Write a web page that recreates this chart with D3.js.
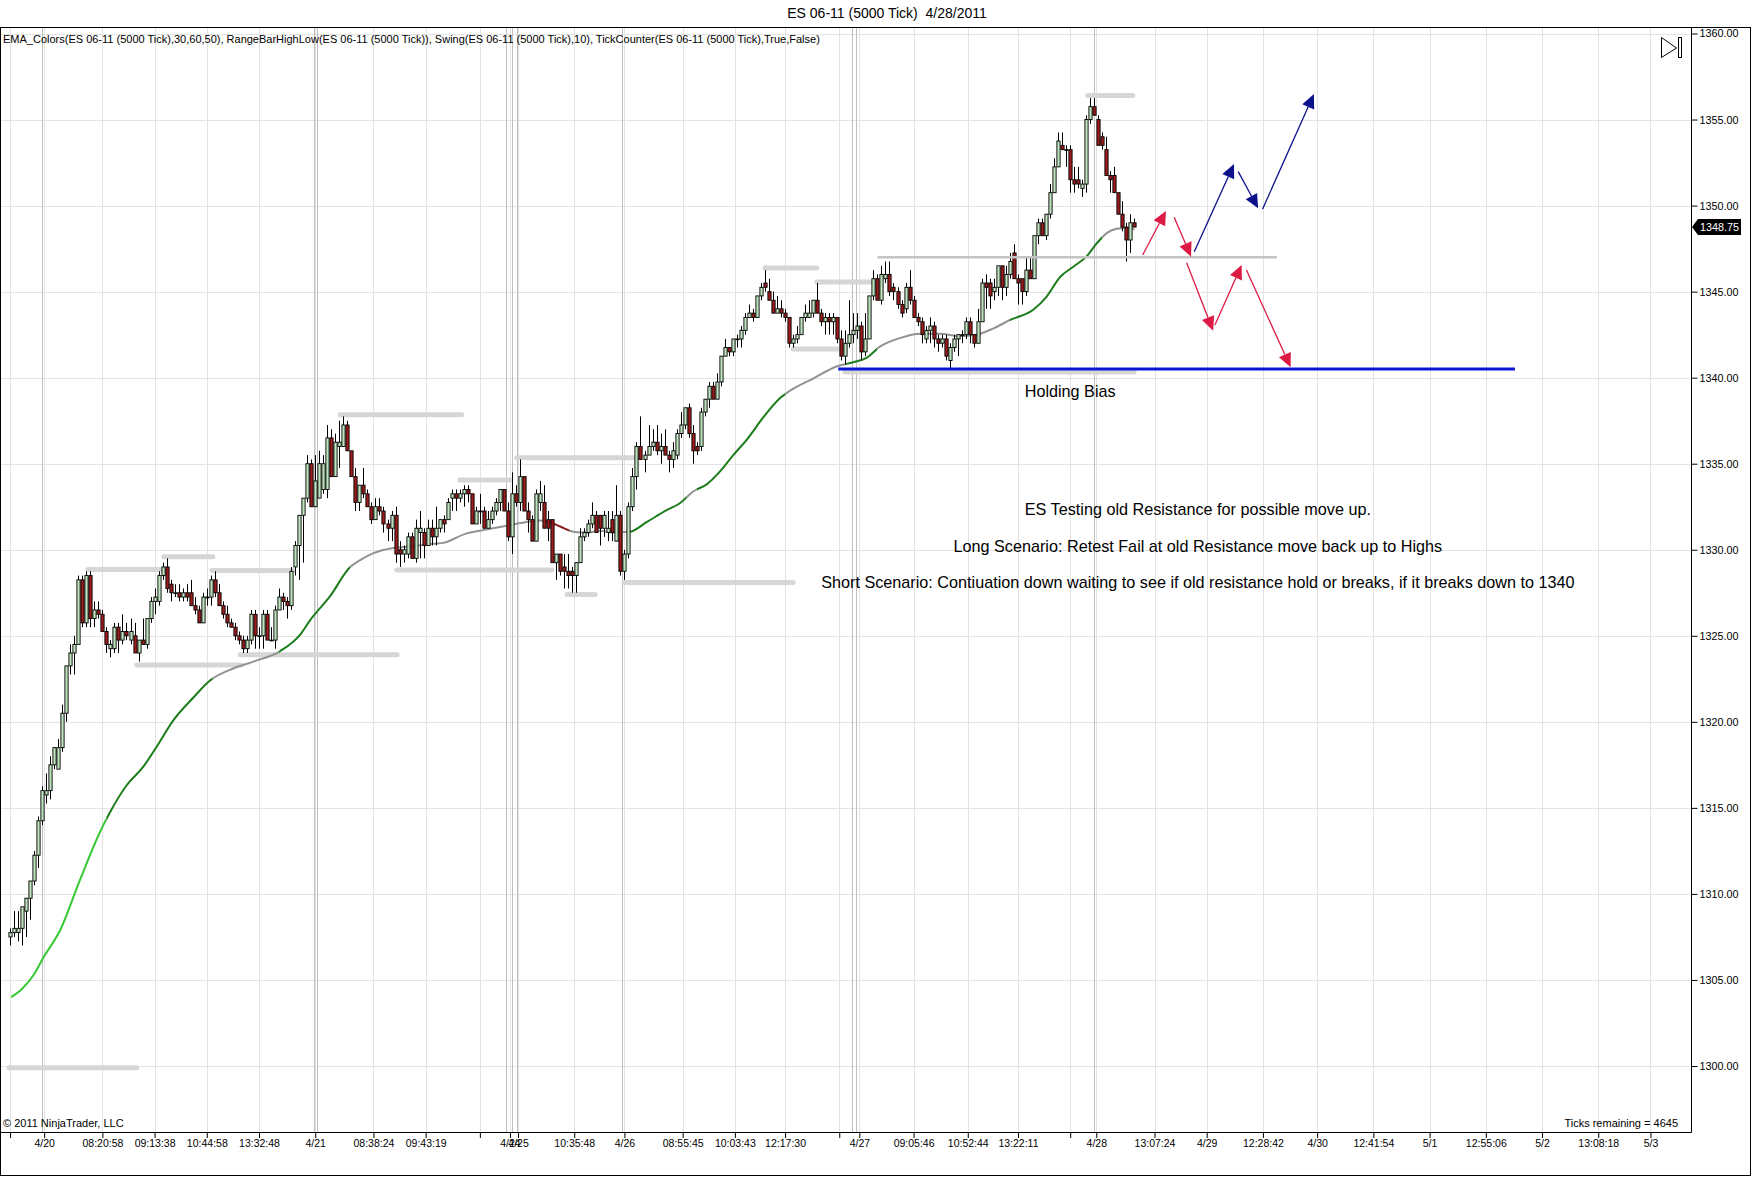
<!DOCTYPE html>
<html>
<head>
<meta charset="utf-8">
<script src="https://cdn.jsdelivr.net/npm/d3@7"></script>
<style>
  body { margin: 0; background: #fff; }
  svg text { font-family: "Liberation Sans", Arial, sans-serif; fill: #000; }
</style>
</head>
<body>
<svg id="chart"></svg>
<script>
// bars: [open, high, low, close], one per 5000-tick bar
const ohlc = [
  [1307.5,1308,1307,1307.75],[1307.75,1309,1307.5,1308],[1307.75,1309,1307.25,1308],[1308,1309.25,1307,1309.25],
  [1309,1309.75,1307.5,1309.75],[1309.75,1310.75,1308.5,1310.75],[1310.75,1312.5,1310.5,1312.25],[1312.25,1314.5,1311.5,1314.25],
  [1314.25,1316.25,1314,1316],[1315.75,1317,1315.25,1316],[1316,1318,1315.5,1317.5],[1317.5,1318.5,1317.25,1318.5],
  [1317.25,1319,1317.25,1318.5],[1318.5,1321,1318.25,1320.5],[1320.5,1323.25,1320,1323.25],[1323.25,1324.5,1322.75,1324],
  [1324,1325,1322.75,1324.5],[1324.5,1328.5,1324.5,1328.25],[1328.25,1328.5,1325.5,1325.75],[1325.75,1328.75,1325.5,1328.5],
  [1328.5,1328.75,1325.5,1326],[1326,1327,1325.5,1326.5],[1326.5,1327,1326,1326.25],[1326.25,1326.5,1325.25,1325.25],
  [1325.25,1325.5,1324,1324.5],[1324.25,1324.75,1323.75,1324.5],[1324.25,1325.75,1324,1325.5],[1325.5,1325.75,1324,1324.75],
  [1324.75,1326.25,1324.5,1325.25],[1325.25,1325.75,1324.75,1325],[1324.75,1326,1324.5,1325.25],[1325,1325.75,1324,1324],
  [1324,1324.75,1323.5,1324.75],[1324.75,1326,1324.5,1324.5],[1324.5,1326,1324.25,1326],[1326,1327.25,1325.75,1327],
  [1327,1327.75,1326.25,1327.25],[1327,1328.75,1326.75,1328.5],[1328.5,1329.25,1328.25,1329],[1329,1329.5,1327.5,1327.75],
  [1328,1328.25,1327,1327.5],[1327.5,1328,1327.25,1327.5],[1327.5,1328,1327,1327.25],[1327.25,1327.75,1327,1327.5],
  [1327.5,1328,1327,1327.25],[1327.5,1328.25,1326.75,1326.75],[1326.75,1327.25,1326.25,1326.5],[1326.5,1326.75,1325.75,1325.75],
  [1325.75,1327.5,1325.75,1327.25],[1327.25,1327.75,1326.75,1327.25],[1327.25,1328.5,1326.75,1328.25],[1328.25,1328.75,1327.25,1327.5],
  [1327.5,1328,1326.75,1326.75],[1326.75,1327,1326,1326.25],[1326.25,1326.75,1325.5,1325.75],[1325.75,1326,1325.5,1325.5],
  [1325.5,1325.75,1324.75,1325],[1325,1325.25,1324.5,1324.75],[1324.75,1325,1324,1324.25],[1324.25,1325,1324,1324.75],
  [1324.75,1326.5,1324.5,1326.25],[1326.25,1326.5,1324.25,1325],[1325,1325.5,1324.25,1325],[1325,1326.5,1324.25,1326.25],
  [1326.25,1326.5,1324.75,1324.75],[1324.75,1325.5,1324.75,1324.75],[1324.75,1326.75,1324.25,1326.5],[1326.5,1327.75,1326.5,1327.25],
  [1327.25,1327.5,1326.5,1327],[1327,1327.25,1326,1326.75],[1326.75,1329,1326.5,1328.75],[1329,1330.5,1328.5,1330.25],
  [1330.25,1332,1328.25,1332],[1332,1333,1329.25,1333],[1333,1335.5,1332.75,1335],[1335,1335.25,1332.5,1332.5],
  [1332.5,1335.5,1332.5,1334],[1333,1335.75,1333,1335],[1333.5,1335.5,1333.25,1335],[1333.5,1337.25,1333,1336.5],
  [1336.5,1337,1334.25,1334.25],[1334.25,1336.75,1334.25,1336.25],[1336,1337.5,1334.75,1336.25],[1336,1337.75,1336,1337.25],
  [1337.25,1337.5,1335.75,1335.75],[1335.75,1335.75,1334.25,1334.25],[1334.25,1334.75,1332.25,1332.75],[1332.75,1333.75,1332.25,1333.75],
  [1333.75,1334.75,1333,1333.25],[1333.25,1333.5,1332.5,1332.5],[1332.5,1332.75,1331.5,1331.75],[1331.75,1333,1331.75,1332.5],
  [1332.5,1333,1332,1332.25],[1332.25,1332.5,1331,1331.5],[1331.5,1331.75,1330.5,1331.25],[1331.25,1332.25,1330.5,1332],
  [1332,1332.5,1329.25,1329.75],[1330,1330.5,1329,1329.75],[1329.75,1330.25,1329.25,1330],[1329.75,1331,1329.5,1330.75],
  [1330.75,1331,1329.5,1329.5],[1329.5,1331.75,1329.25,1331.25],[1331,1332.25,1329.5,1331.25],[1331,1331.25,1329.5,1330.25],
  [1330.25,1331.75,1330.25,1331.25],[1331.25,1331.75,1330.25,1330.75],[1330.75,1332.5,1330.25,1331.25],[1331.25,1331.75,1331,1331.75],
  [1331.75,1332,1331,1331.5],[1331.75,1333,1331.75,1332.75],[1333,1333.5,1332.25,1333.25],[1333.25,1333.5,1332.25,1333],
  [1333,1333.5,1332.75,1333.25],[1333.25,1333.75,1332.5,1333.5],[1333.5,1333.75,1332.75,1333.25],[1333.25,1333.25,1331.5,1331.5],
  [1331.5,1332.5,1331.5,1332.25],[1332.25,1333.25,1331.5,1332.25],[1332.25,1332.5,1331.25,1331.25],[1331.25,1332.25,1331.25,1331.75],
  [1331.75,1332.5,1331.5,1332.25],[1332.25,1333,1332,1332.75],[1332.75,1333.5,1332.25,1333.5],[1333.5,1333.5,1332.25,1332.25],
  [1332.25,1332.75,1330.5,1330.75],[1330.75,1334.5,1329.75,1333.25],[1333.25,1333.75,1332.5,1332.75],[1332.75,1335.25,1332.25,1334.25],
  [1334.25,1334.25,1332.25,1332.25],[1332.25,1332.75,1331,1331.75],[1331.75,1332,1330.5,1330.5],[1330.5,1333.5,1330.5,1333.25],
  [1332.75,1334,1332.25,1333.25],[1332.75,1333.75,1331.25,1331.25],[1331.75,1332.25,1330.5,1331.25],[1331.75,1331.75,1329.25,1329.25],
  [1329.25,1329.75,1328.25,1329.75],[1329.75,1329.75,1328.5,1328.75],[1329,1329.75,1327.75,1328.75],[1328.75,1329.75,1327.75,1328.5],
  [1328.75,1329,1327.5,1328.5],[1328.5,1329.25,1327.5,1329.25],[1329.25,1331.25,1329.25,1330.75],[1330.75,1331.25,1330.5,1331],
  [1331,1331.75,1330.75,1331.5],[1331.5,1332.75,1331.25,1332],[1332,1332.25,1331,1331],[1332,1332,1330.25,1331.25],
  [1331.25,1332.25,1330.75,1332],[1331,1332.25,1330.5,1331.25],[1331.75,1332.25,1330.5,1331],[1330.5,1333.75,1330.5,1332],
  [1332,1332.25,1328.5,1328.75],[1328.75,1330,1328.25,1329.75],[1329.75,1332.75,1329.5,1332.5],[1332.5,1334.75,1332.25,1334.25],
  [1334.25,1336.25,1333.5,1336],[1336,1337.75,1335.25,1335.25],[1335.25,1335.75,1334.5,1335.5],[1335.5,1337.25,1335.5,1336],
  [1336,1337,1335.75,1336.25],[1336.25,1337.25,1335.5,1335.75],[1335.75,1336.75,1335,1336],[1336,1337,1335.5,1335.5],
  [1335.5,1335.75,1334.5,1335.25],[1335.25,1336.25,1334.75,1335.75],[1335.5,1337,1335.25,1336.75],[1336.75,1338,1336.5,1337.25],
  [1337.25,1338.25,1337,1338.25],[1338.25,1338.5,1336.5,1336.75],[1336.75,1337.25,1335,1335.75],[1336,1336.25,1335.5,1335.75],
  [1336,1338.25,1335.75,1338],[1338,1338.75,1337.75,1338.75],[1338.75,1339.75,1338.25,1339.5],[1339.5,1339.75,1338.75,1338.75],
  [1338.75,1340.25,1338.75,1339.75],[1339.75,1341.25,1339.5,1341.25],[1341.25,1342.25,1341.25,1341.75],[1341.75,1341.75,1341.25,1341.5],
  [1341.5,1342.25,1341.25,1342.25],[1342.25,1342.5,1341.75,1342.25],[1342.25,1343,1341.75,1342.75],[1342.75,1343.75,1342.5,1343.5],
  [1343.5,1344.25,1343.5,1343.75],[1343.75,1344,1343.25,1343.5],[1343.5,1344.75,1343.5,1344.75],[1344.75,1345.5,1344.5,1345.25],
  [1345.5,1346.25,1345,1345.25],[1345,1345.75,1344.5,1344.5],[1344.5,1345,1343.75,1343.75],[1343.75,1344.75,1343.75,1344],
  [1344,1344.5,1343.5,1343.75],[1343.75,1344,1343.25,1343.5],[1343.5,1343.5,1341.75,1342],[1342,1342.5,1341.75,1342.25],
  [1342.25,1343,1342,1342.5],[1342.5,1343.5,1342.5,1343.5],[1343.5,1344.25,1343.25,1343.75],[1343.5,1344.5,1343.5,1343.75],
  [1343.75,1344.5,1343.5,1344.5],[1344.5,1345.5,1343.75,1343.75],[1343.75,1344,1343,1343.25],[1343.25,1343.75,1342.5,1343.5],
  [1343.5,1343.75,1342.5,1343.25],[1343.25,1343.75,1342.5,1343.5],[1343.5,1343.5,1342,1342.25],[1342.25,1342.75,1341,1341.25],
  [1341.25,1342.75,1340.75,1342],[1342,1344.5,1341.75,1342.5],[1342.5,1343.75,1342,1342.75],[1342.75,1343.75,1342.25,1343],
  [1343,1343.25,1341,1341.5],[1341.5,1343.75,1341.25,1342.25],[1342.25,1344.75,1342.25,1344.75],[1344.75,1346.25,1344.5,1345.75],
  [1345.75,1346,1344.5,1344.5],[1344.5,1346.5,1344.25,1346],[1345.75,1346.75,1345.5,1346],[1346,1346.75,1344.75,1345],
  [1345.25,1345.5,1344.5,1345],[1345,1345.25,1344,1344.25],[1344.25,1344.5,1343.5,1343.75],[1344,1345.5,1343.75,1345.25],
  [1345.25,1346.25,1344.25,1344.5],[1344.5,1344.75,1343.5,1343.5],[1343.5,1343.75,1343,1343.25],[1343.25,1343.5,1342,1342.5],
  [1342.25,1343,1342,1342.75],[1342.75,1343.5,1342,1343],[1343,1343.25,1341.75,1342.25],[1342.25,1342.5,1341.5,1342],
  [1342,1342.5,1341.75,1342.25],[1342.25,1342.5,1341,1341.25],[1341,1342,1340.5,1341.75],[1341.75,1342.5,1341.5,1342.25],
  [1342.25,1342.5,1341.25,1342.5],[1342.5,1342.75,1342,1342.5],[1342.5,1343.5,1342.25,1343.25],[1343.25,1343.5,1342,1342.5],
  [1342.5,1342.5,1341.75,1342],[1342,1344,1342,1343.25],[1343.25,1345.75,1343.25,1345.5],[1345.5,1346,1344,1345.25],
  [1345.5,1345.75,1344,1344.75],[1345,1345.75,1344.5,1345.25],[1345.25,1346.5,1344.75,1346.5],[1346.5,1346.5,1344.5,1345.25],
  [1345.25,1346.5,1344.75,1346],[1346,1347.25,1345.75,1346.75],[1347.25,1347.75,1345.75,1345.75],[1345.75,1346,1344.25,1345.5],
  [1345.75,1345.75,1344.25,1345],[1345,1347,1344.75,1346.25],[1346.25,1347,1345.75,1345.75],[1345.75,1348.25,1345.75,1348.25],
  [1348.25,1349.25,1347.75,1349],[1349,1349.25,1348.25,1348.25],[1348.25,1349.5,1348,1349.5],[1349.5,1351.25,1349.25,1350.75],
  [1350.75,1352.75,1350.75,1352.25],[1352.25,1354.25,1352.25,1353.75],[1353.5,1354.25,1353.25,1353.25],[1353.25,1353.5,1352.25,1353.25],
  [1353.25,1353.5,1350.75,1351.5],[1351.5,1352.25,1350.75,1351.25],[1351.5,1352.25,1351,1351.25],[1351,1351.5,1350.5,1351.25],
  [1351.25,1355.25,1350.75,1355],[1355,1356.25,1354.75,1355.75],[1355.75,1356.25,1355.25,1355.25],[1355,1355.25,1353.5,1353.5],
  [1354,1354.25,1353.25,1353.5],[1353.25,1354,1351.75,1351.75],[1351.75,1352,1350.75,1351.5],[1351.75,1352.25,1350.75,1350.75],
  [1350.75,1350.75,1349.5,1349.5],[1349.5,1350.25,1348.5,1348.75],[1348.75,1349,1346.75,1348],[1348,1349.5,1347.25,1349],
  [1349,1349.25,1348.75,1348.75]
];

// EMA(30/60) readings: bar index and value
const emaBars = [0.3,3.1,5.9,8.3,12.5,17.4,22.4,24.9,29,33.2,36.5,40.7,45.6,49.8,55.6,60.6,67.2,72.2,74.7,79.7,84.7,87.2,90.5,95.4,100.4,105.4,107.9,113.7,117,120.3,123.7,127,132,134.5,137,140.3,143.6,146.9,150.5,154.4,158.5,163.5,166.8,170.2,173.5,176.8,180.1,183.5,187.6,191.7,195,200,205.8,210,213.3,216.6,221.6,226.6,231.6,236.6,240.7,244.8,249,254.8,258.1,261.5,264.8,268.1,270.6,273.1,275.6,278.1,280];
const emaValues = [1304,1304.5,1305.3,1306.3,1307.9,1310.8,1313.6,1314.75,1316.3,1317.4,1318.55,1320.1,1321.4,1322.4,1323.1,1323.5,1324.1,1325.05,1325.9,1327.3,1329,1329.4,1329.8,1330.1,1330.2,1330.35,1330.4,1330.95,1331.1,1331.25,1331.4,1331.55,1331.7,1331.6,1331.35,1331.05,1331,1331.1,1331,1331.05,1331.6,1332.3,1332.7,1333.4,1333.8,1334.55,1335.5,1336.4,1337.7,1338.8,1339.35,1339.95,1340.65,1340.9,1341.15,1341.8,1342.3,1342.55,1342.55,1342.4,1342.5,1342.85,1343.35,1343.95,1344.7,1345.85,1346.45,1347.05,1347.8,1348.4,1348.65,1348.7,1348.6];
// EMA colour state by bar range
const emaSegStart = [0,24,50.5,67,84.7,133.6,139.4,154,168.5,171,193,208,216,249,272];
const emaSegEnd = [24,50.5,67,84.7,133.6,139.4,154,168.5,171,193,208,216,249,272,282];
const emaSegState = ["lime","up","flat","up","flat","down","flat","up","flat","up","flat","up","flat","up","flat"];

// RangeBarHighLow / swing levels
const swingStart = [-0.25,19.4,31.6,38.3,50.3,57.3,82.2,96.3,112,126.2,138.7,152.9,188,195,200.9,207.9,268.4];
const swingEnd = [31.6,37.35,57.5,50.5,70.5,96.4,112.5,134.9,124.5,156.1,145.7,195,200.9,207.1,215.9,279.9,279.6];
const swingPrice = [1299.9,1328.85,1323.3,1329.6,1328.8,1323.9,1337.85,1328.83,1334.06,1335.35,1327.4,1328.09,1346.37,1341.67,1345.56,1340.33,1356.4];

// drawn levels: old resistance, holding bias
const levelStart = [216, 206.25];
const levelEnd = [315.5, 374.75];
const levelPrice = [1347, 1340.5];

// drawn arrows [fromBar, fromPrice, toBar, toPrice]
const shortArrows = [[282.05,1347.13,287.85,1349.69],[289.9,1349.32,294.1,1347.03],[293,1346.68,299.6,1342.73],[300.05,1343.06,306.7,1346.55],[307.9,1346.26,318.9,1340.6]];
const longArrows = [[294.9,1347.32,304.8,1352.42],[305.85,1351.97,310.8,1349.84],[311.9,1349.79,324.7,1356.48]];

// text notes anchored at bar / price
const noteText = ["Holding Bias","ES Testing old Resistance for possible move up.","Long Scenario: Retest Fail at old Resistance move back up to Highs","Short Scenario: Contiuation down waiting to see if old resistance hold or breaks, if it breaks down to 1340"];
const noteBar = [264, 295.8, 295.8, 295.8];
const notePrice = [1339.23, 1332.37, 1330.24, 1328.13];

// axes
const tickBars = [0,8.5,23,36,49,62,76,90.5,103.5,117,124.5,126.5,140.5,153,167.5,180.5,193,206.5,211.5,225,238.5,251,264,270.5,285,298,312,325.5,339.5,353.5,367.5,381.5,395.5,408.5];
const tickLabels = ["","4/20","08:20:58","09:13:38","10:44:58","13:32:48","4/21","08:38:24","09:43:19","","4/24","4/25","10:35:48","4/26","08:55:45","10:03:43","12:17:30","","4/27","09:05:46","10:52:44","13:22:11","","4/28","13:07:24","4/29","12:28:42","4/30","12:41:54","5/1","12:55:06","5/2","13:08:18","5/3"];
const sessionBreaks = [8,75.6,76.4,123.5,125,126.25,152.5,209.75,210.75,270];
const priceTicks = [1300,1305,1310,1315,1320,1325,1330,1335,1340,1345,1350,1355,1360];

// SVG dimensions
const width = 1752;
const height = 1177;
const plot = { left: 1, top: 28, right: 1691, bottom: 1132 };

const svg = d3.select("#chart").attr("width", width).attr("height", height);
svg.append("rect").attr("width", width).attr("height", height).style("fill", "#fff");

// scales
const x = d3.scaleLinear().domain([-2.25, 418.6]).range([plot.left, plot.right]);
const y = d3.scaleLinear().domain([1300, 1360]).range([1066, 33.5]);

const defs = svg.append("defs");
defs.append("clipPath").attr("id", "plotClip")
  .append("rect")
  .attr("x", plot.left).attr("y", plot.top)
  .attr("width", plot.right - plot.left).attr("height", plot.bottom - plot.top);

const g = svg.append("g").attr("clip-path", "url(#plotClip)");

// grid
g.selectAll("line.hgrid")
  .data(priceTicks)
  .enter()
  .append("line")
  .attr("x1", plot.left).attr("x2", plot.right)
  .attr("y1", (d) => Math.round(y(d)) + 0.5).attr("y2", (d) => Math.round(y(d)) + 0.5)
  .style("stroke", "#e3e3e3").style("stroke-width", 1);

g.selectAll("line.vgrid")
  .data(tickBars)
  .enter()
  .append("line")
  .attr("x1", (d) => Math.round(x(d)) + 0.5).attr("x2", (d) => Math.round(x(d)) + 0.5)
  .attr("y1", plot.top).attr("y2", plot.bottom)
  .style("stroke", "#e3e3e3").style("stroke-width", 1);

g.selectAll("line.session")
  .data(sessionBreaks)
  .enter()
  .append("line")
  .attr("x1", (d) => Math.round(x(d)) + 0.5).attr("x2", (d) => Math.round(x(d)) + 0.5)
  .attr("y1", plot.top).attr("y2", plot.bottom)
  .style("stroke", "#c0c0c0").style("stroke-width", 1);

// swing levels
g.selectAll("line.swing")
  .data(swingPrice)
  .enter()
  .append("line")
  .attr("x1", (d, i) => x(swingStart[i])).attr("x2", (d, i) => x(swingEnd[i]))
  .attr("y1", (d) => y(d)).attr("y2", (d) => y(d))
  .style("stroke", "#d6d6d6").style("stroke-width", 5).style("stroke-linecap", "round");

// EMA, coloured by clipping one curve per state range
const emaColor = { lime: "#36c936", up: "#1d7d1d", flat: "#929292", down: "#8b1e1e" };
const emaPts = emaBars.map((b, i) => [b, emaValues[i]]);
const emaLine = d3.line().x((d) => x(d[0])).y((d) => y(d[1])).curve(d3.curveMonotoneX);

emaSegState.forEach((s, i) => {
  defs.append("clipPath").attr("id", "ema" + i)
    .append("rect")
    .attr("x", x(emaSegStart[i])).attr("y", 0)
    .attr("width", x(emaSegEnd[i]) - x(emaSegStart[i])).attr("height", height);
  g.append("path")
    .datum(emaPts)
    .attr("d", emaLine)
    .attr("clip-path", `url(#ema${i})`)
    .style("fill", "none")
    .style("stroke", emaColor[s])
    .style("stroke-width", 2);
});

// candles
const candles = ohlc.map((d, i) => ({ i, o: d[0], h: d[1], l: d[2], c: d[3] }));

g.selectAll("line.wick")
  .data(candles)
  .enter()
  .append("line")
  .attr("x1", (d) => Math.round(x(d.i)) + 0.5).attr("x2", (d) => Math.round(x(d.i)) + 0.5)
  .attr("y1", (d) => y(d.h)).attr("y2", (d) => y(d.l))
  .style("stroke", "#000").style("stroke-width", 1);

g.selectAll("rect.body")
  .data(candles)
  .enter()
  .append("rect")
  .attr("x", (d) => Math.round(x(d.i)) - 1.1)
  .attr("width", 3.2)
  .attr("y", (d) => y(Math.max(d.o, d.c)))
  .attr("height", (d) => Math.max(0.8, Math.abs(y(d.o) - y(d.c))))
  .style("fill", (d) => (d.c >= d.o ? "#bfe4bf" : "#9c1c1c"))
  .style("stroke", "#000")
  .style("stroke-width", 0.9);

// drawn levels
const levelColor = ["#c4c4c4", "#0a14d6"];
const levelWidth = [2.5, 3];
g.selectAll("line.level")
  .data(levelPrice)
  .enter()
  .append("line")
  .attr("x1", (d, i) => x(levelStart[i])).attr("x2", (d, i) => x(levelEnd[i]))
  .attr("y1", (d) => y(d)).attr("y2", (d) => y(d))
  .style("stroke", (d, i) => levelColor[i])
  .style("stroke-width", (d, i) => levelWidth[i]);

// arrows
function drawArrows(list, color) {
  list.forEach((a) => {
    const x1 = x(a[0]), y1 = y(a[1]), x2 = x(a[2]), y2 = y(a[3]);
    const ang = Math.atan2(y2 - y1, x2 - x1);
    const len = 14, half = 6.5;
    const bx = x2 - len * Math.cos(ang), by = y2 - len * Math.sin(ang);
    const nx = -Math.sin(ang) * half, ny = Math.cos(ang) * half;
    g.append("line")
      .attr("x1", x1).attr("y1", y1).attr("x2", bx).attr("y2", by)
      .style("stroke", color).style("stroke-width", 1.3);
    g.append("polygon")
      .attr("points", [[x2, y2], [bx + nx, by + ny], [bx - nx, by - ny]].map((p) => p.join(",")).join(" "))
      .style("fill", color);
  });
}
drawArrows(shortArrows, "#dc1a44");
drawArrows(longArrows, "#0c128c");

// notes
g.selectAll("text.note")
  .data(noteText)
  .enter()
  .append("text")
  .attr("x", (d, i) => x(noteBar[i]))
  .attr("y", (d, i) => y(notePrice[i]) + 6)
  .attr("text-anchor", "middle")
  .style("font-size", "16.2px")
  .text((d) => d);

// x axis
const xAxis = d3.axisBottom(x)
  .tickValues(tickBars)
  .tickFormat((d, i) => tickLabels[i])
  .tickSize(6)
  .tickSizeOuter(0);

const gx = svg.append("g")
  .attr("transform", `translate(0, ${plot.bottom})`)
  .call(xAxis);
gx.select(".domain").remove();
gx.selectAll("text").style("font-size", "10.5px").style("fill", "#000").attr("y", 8);
gx.selectAll(".tick line").style("stroke", "#000");

// y axis
const yAxis = d3.axisRight(y)
  .tickValues(priceTicks)
  .tickFormat(d3.format(".2f"))
  .tickSize(6);

const gy = svg.append("g")
  .attr("transform", `translate(${plot.right + 0.5}, 0)`)
  .call(yAxis);
gy.select(".domain").remove();
gy.selectAll("text").style("font-size", "10.8px").style("fill", "#000").attr("x", 8);
gy.selectAll(".tick line").style("stroke", "#000");

// frame
svg.append("rect")
  .attr("x", 0.5).attr("y", plot.top - 0.5)
  .attr("width", width - 2).attr("height", height - plot.top - 1)
  .style("fill", "none").style("stroke", "#000");
svg.append("line")
  .attr("x1", plot.right + 0.5).attr("x2", plot.right + 0.5)
  .attr("y1", plot.top).attr("y2", plot.bottom + 0.5)
  .style("stroke", "#000");
svg.append("line")
  .attr("x1", 0).attr("x2", plot.right + 0.5)
  .attr("y1", plot.bottom + 0.5).attr("y2", plot.bottom + 0.5)
  .style("stroke", "#000");

// last price marker
const last = ohlc[ohlc.length - 1][3];
const ly = y(last);
svg.append("polygon")
  .attr("points", `${plot.right + 1},${ly} ${plot.right + 7},${ly - 8} ${plot.right + 50},${ly - 8} ${plot.right + 50},${ly + 8} ${plot.right + 7},${ly + 8}`)
  .style("fill", "#000");
svg.append("text")
  .attr("x", plot.right + 9).attr("y", ly + 4)
  .style("font-size", "10.8px").style("fill", "#fff")
  .text(d3.format(".2f")(last));

// play-to-end icon
svg.append("polygon")
  .attr("points", "1661.5,37.5 1676.5,48 1661.5,57.5")
  .style("fill", "none").style("stroke", "#000");
svg.append("rect")
  .attr("x", 1678.5).attr("y", 37.5).attr("width", 3).attr("height", 20)
  .style("fill", "none").style("stroke", "#000");

// texts
svg.append("text")
  .attr("x", 887).attr("y", 18)
  .attr("text-anchor", "middle")
  .style("font-size", "14px")
  .text("ES 06-11 (5000 Tick)\u00a0 4/28/2011");

svg.append("text")
  .attr("x", 3).attr("y", 43)
  .style("font-size", "11px")
  .text("EMA_Colors(ES 06-11 (5000 Tick),30,60,50), RangeBarHighLow(ES 06-11 (5000 Tick)), Swing(ES 06-11 (5000 Tick),10), TickCounter(ES 06-11 (5000 Tick),True,False)");

svg.append("text")
  .attr("x", 3).attr("y", 1127)
  .style("font-size", "11px")
  .text("\u00a9 2011 NinjaTrader, LLC");

svg.append("text")
  .attr("x", 1678).attr("y", 1127)
  .attr("text-anchor", "end")
  .style("font-size", "11px")
  .text("Ticks remaining = 4645");
</script>
</body>
</html>
